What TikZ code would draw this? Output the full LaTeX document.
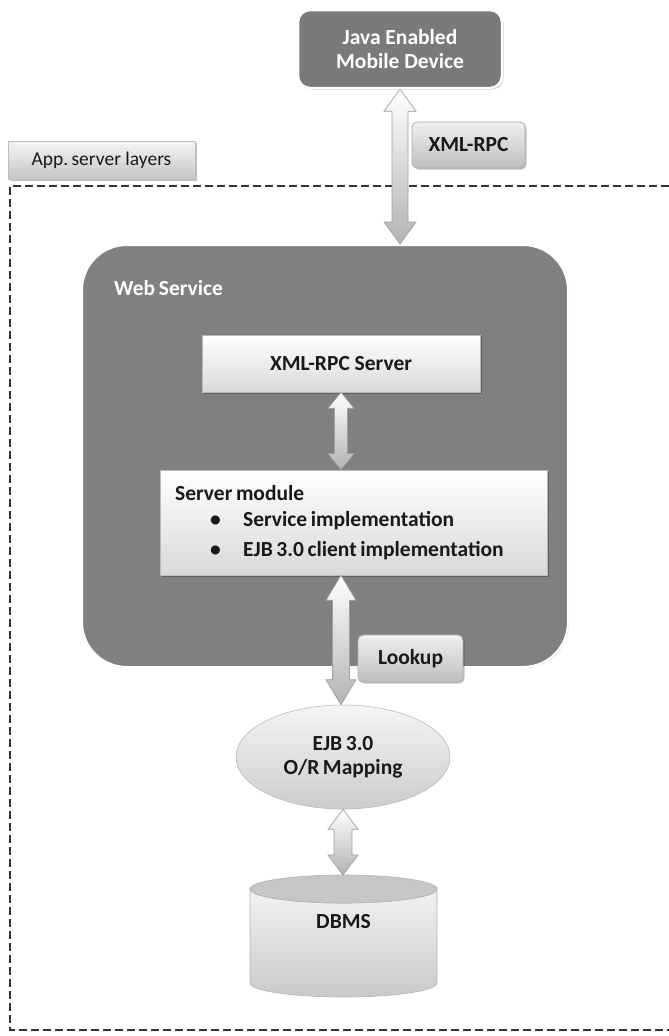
\documentclass[tikz,border=0pt]{standalone}
\usepackage{fontspec}
\setmainfont{Carlito}
\usetikzlibrary{shadows,calc,shapes.geometric}
\definecolor{wsgray}{RGB}{128,128,128}
\definecolor{mobgray}{RGB}{122,122,122}
\definecolor{txtdark}{RGB}{25,25,25}
\newcommand\myfs{\fontsize{21.5}{25}\selectfont}
\newcommand\mysmallfs{\fontsize{19.5}{23}\selectfont}
\newcommand\fatarrow[5]{%
  \path[fatarr] let \p1=#1, \p2=#2 in
    (\x1,\y1) -- (\x1+#4,\y1-#5) -- (\x1+#3,\y1-#5) -- (\x1+#3,\y2+#5)
    -- (\x1+#4,\y2+#5) -- (\x1,\y2) -- (\x1-#4,\y2+#5) -- (\x1-#3,\y2+#5)
    -- (\x1-#3,\y1-#5) -- (\x1-#4,\y1-#5) -- cycle;}
\begin{document}
\begin{tikzpicture}[x=1pt,y=-1pt,
  softshadow/.style={drop shadow={shadow xshift=1.5pt,shadow yshift=-1.5pt,fill=black,opacity=0.25}},
  darkbox/.style={rounded corners=12pt, fill=mobgray, draw=white, line width=2.5pt, softshadow,
    text=white, font=\bfseries\myfs, align=center, inner sep=0pt},
  wsbox/.style={rounded corners=45pt, fill=wsgray, draw=white, line width=2pt,
    drop shadow={shadow xshift=1pt,shadow yshift=-1pt,fill=black,opacity=0.2}, inner sep=0pt},
  lightbox/.style={top color=white, bottom color=gray!30, draw=gray!55, line width=0.6pt,
    softshadow, text=txtdark, font=\bfseries\myfs, inner sep=0pt},
  labelbox/.style={rounded corners=5pt, top color=gray!12, bottom color=gray!50, draw=gray!65,
    line width=0.8pt, softshadow, text=txtdark, font=\bfseries\myfs, inner sep=0pt},
  fatarr/.style={top color=white, bottom color=gray!60, draw=gray!75, line width=0.7pt},
  frame/.style={draw=black!80, line width=1.8pt, dash pattern=on 8pt off 4pt},
  plaintext/.style={font=\bfseries\myfs, text=txtdark, inner sep=0pt, anchor=west}
]
\useasboundingbox (0,0) rectangle (669,1036);

% dashed frame (open on the right)
\draw[frame] (669,186) -- (10,186) -- (10,1030) -- (669,1030);

% App. server layers label
\node[top color=gray!8, bottom color=gray!45, draw=gray!50, line width=0.6pt,
  minimum width=187, minimum height=38, inner sep=0pt, text=txtdark, font=\mysmallfs,
  softshadow] (app) at (101.5,160) {App.\,server layers};

% Mobile device
\node[darkbox, minimum width=204, minimum height=78] (mob) at (400,49)
  {Java Enabled\\[-1pt]Mobile Device};

% Web service container
\node[wsbox, minimum width=486, minimum height=422] (ws) at (325,456) {};
\node[anchor=west, text=white, font=\bfseries\myfs, inner sep=0pt] (wst) at (114,288) {Web\,Service};

% XML-RPC arrow and label
\fatarrow{(mob.south)}{(mob.south |- ws.north)}{8pt}{16pt}{22pt}
\node[labelbox, minimum width=113, minimum height=46] (xl) at (468.5,145) {XML-RPC};

% XML-RPC Server
\node[lightbox, minimum width=278, minimum height=57] (xs) at (341,363.5) {XML-RPC Server};

% Server module
\node[lightbox, minimum width=387, minimum height=105] (sm) at (353.5,522.5) {};
\node[plaintext] (smt) at (175,493) {Server\,module};
\node[plaintext] (b1) at (210,521) {•};
\node[plaintext] (s1) at (243,521) {Service\,implementation};
\node[plaintext] (b2) at (210,551) {•};
\node[plaintext] (s2) at (243,551) {EJB\,3.0\,client\,implementation};

% arrow XML-RPC server <-> server module
\fatarrow{(xs.south)}{(xs.south |- sm.north)}{6.5pt}{13pt}{16pt}

% EJB ellipse
\node[ellipse, minimum width=214, minimum height=104, inner sep=0pt,
  top color=gray!8, bottom color=gray!40, draw=gray!55, line width=0.6pt,
  text=txtdark, font=\bfseries\myfs, align=center] (ejb) at (343,757)
  {EJB\,3.0\\[-1pt]O/R\,Mapping};

% Lookup arrow and label
\fatarrow{(xs.south |- sm.south)}{(ejb.north)}{8.5pt}{15pt}{25pt}
\node[labelbox, minimum width=105, minimum height=47] (lk) at (410.5,658.5) {Lookup};

% DBMS cylinder
\coordinate (dbtop) at (343.5,875);
\path[top color=gray!10, bottom color=gray!42, draw=gray!60, line width=0.6pt]
  (250,889) -- (250,983) arc[start angle=180, end angle=360, x radius=93.5pt, y radius=14pt]
  -- (437,889) arc[start angle=0, end angle=-180, x radius=93.5pt, y radius=14pt] -- cycle;
\path[fill=gray!45, draw=gray!60, line width=0.6pt] (343.5,889) ellipse[x radius=93.5pt, y radius=14pt];
\node[font=\bfseries\myfs, text=txtdark, inner sep=0pt] (db) at (343.5,922) {DBMS};

% arrow EJB <-> DBMS
\fatarrow{(ejb.south)}{(dbtop)}{9pt}{15pt}{20pt}
\end{tikzpicture}
\end{document}
